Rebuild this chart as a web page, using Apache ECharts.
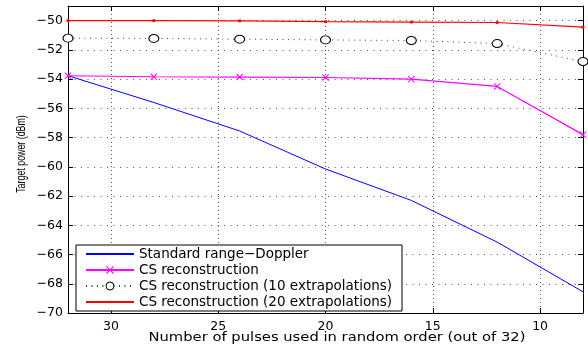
<!DOCTYPE html>
<html>
<head>
<meta charset="utf-8">
<script src="https://cdn.jsdelivr.net/npm/echarts@6/dist/echarts.min.js"></script>
<style>
  html, body { margin: 0; padding: 0; background: #fff; }
  #chart { width: 588px; height: 351px; }
</style>
</head>
<body>
<div id="chart"></div>
<script>
// Number of pulses kept (x axis runs from 32 down to 8)
const pulses = [32, 28, 24, 20, 16, 12, 8];

// Target power in dBm for each processing method
const standardRD = [-53.77, -55.6, -57.55, -60.15, -62.3, -65.15, -68.55];
const csRecon    = [-53.77, -53.84, -53.86, -53.89, -54.0, -54.5, -57.8];
const csExtrap10 = [-51.2, -51.22, -51.27, -51.32, -51.36, -51.57, -52.8];
const csExtrap20 = [-50.0, -50.0, -50.02, -50.07, -50.1, -50.13, -50.45];

const seriesNames = [
  'Standard range\u2212Doppler',
  'CS reconstruction',
  'CS reconstruction (10 extrapolations)',
  'CS reconstruction (20 extrapolations)'
];

const xTitle = 'Number of pulses used in random order (out of 32)';
const yTitle = 'Target power (dBm)';

const FONT = 'DejaVu Sans, Liberation Sans, sans-serif';
const pair = ys => pulses.map((p, i) => [p, ys[i]]);
const minus = v => String(v).replace('-', '\u2212');

// thin "x" marker
const crossPath = 'path://M0,1L1,0L5,4L9,0L10,1L6,5L10,9L9,10L5,6L1,10L0,9L4,5Z';
// small square dot centred in a 10x10 box, so it stays small in the legend too
const dotPath = 'path://M0,0M10,10M3.6,3.6L6.4,3.6L6.4,6.4L3.6,6.4Z';

const chart = echarts.init(document.getElementById('chart'), null, { renderer: 'canvas' });

const frameAxis = { show: true, lineStyle: { color: '#000', width: 1 } };
const innerTick = { show: true, inside: true, length: 5, lineStyle: { color: '#000' } };

chart.setOption({
  animation: false,
  backgroundColor: '#fff',
  grid: { left: 68, right: 5, top: 6, bottom: 38, containLabel: false },
  xAxis: [
    {
      type: 'value', inverse: true, min: 8, max: 32, splitNumber: 5,
      axisLine: frameAxis,
      axisTick: innerTick,
      axisLabel: {
        margin: 7, color: '#000', fontFamily: FONT, fontSize: 12.5,
        formatter: v => (v % 5 === 0 ? minus(v) : '')
      },
      splitLine: { show: true, lineStyle: { color: '#555', width: 1, type: [1, 3] } }
    },
    {
      type: 'value', inverse: true, min: 8, max: 32, splitNumber: 5, position: 'top',
      axisLine: frameAxis,
      axisTick: innerTick,
      axisLabel: { show: false },
      splitLine: { show: false }
    }
  ],
  yAxis: [
    {
      type: 'value', min: -70, max: -49, interval: 2,
      axisLine: frameAxis,
      axisTick: innerTick,
      axisLabel: {
        margin: 5, color: '#000', fontFamily: FONT, fontSize: 12.5,
        formatter: v => (v % 2 === 0 ? minus(v) : '')
      },
      splitLine: { show: true, lineStyle: { color: '#555', width: 1, type: [1, 5.5] } }
    },
    {
      type: 'value', min: -70, max: -49, interval: 2, position: 'right',
      axisLine: frameAxis,
      axisTick: innerTick,
      axisLabel: { show: false },
      splitLine: { show: false }
    }
  ],
  legend: {
    orient: 'vertical',
    left: 76, top: 245,
    padding: [2, 10, 2, 9],
    itemWidth: 48, itemHeight: 10, itemGap: 2,
    backgroundColor: '#fff',
    borderColor: '#000', borderWidth: 1, borderRadius: 0,
    textStyle: { color: '#000', fontFamily: FONT, fontSize: 13.5, lineHeight: 13 },
    data: [
      { name: seriesNames[0], itemStyle: { opacity: 0 } },
      { name: seriesNames[1] },
      { name: seriesNames[2], itemStyle: { borderWidth: 1 } },
      { name: seriesNames[3] }
    ]
  },
  graphic: [
    {
      type: 'text', x: 337, y: 338, scaleX: 1.18, z: 10,
      style: { text: xTitle, fill: '#000', font: '12.5px ' + FONT, align: 'center', verticalAlign: 'middle' }
    },
    {
      type: 'text', x: 21.5, y: 154, rotation: Math.PI / 2, scaleX: 0.68, z: 10,
      style: { text: yTitle, fill: '#000', font: '13px Liberation Sans, Arial, sans-serif', align: 'center', verticalAlign: 'middle' }
    }
  ],
  series: [
    {
      name: seriesNames[0], type: 'line', data: pair(standardRD),
      showSymbol: false,
      lineStyle: { color: '#0000ff', width: 1 }, itemStyle: { color: '#0000ff' }
    },
    {
      name: seriesNames[1], type: 'line', data: pair(csRecon),
      symbol: crossPath, symbolSize: 7,
      lineStyle: { color: '#ff00ff', width: 1.2 }, itemStyle: { color: '#ff00ff' }
    },
    {
      name: seriesNames[2], type: 'line', data: pair(csExtrap10),
      symbol: 'circle', symbolSize: [10, 8],
      lineStyle: { color: '#444', width: 1, type: [1, 4.5] },
      itemStyle: { color: '#fff', borderColor: '#000', borderWidth: 1 }
    },
    {
      name: seriesNames[3], type: 'line', data: pair(csExtrap20),
      symbol: dotPath, symbolSize: 10,
      lineStyle: { color: '#ff0000', width: 1.2 }, itemStyle: { color: '#ff0000' }
    }
  ]
});
</script>
</body>
</html>
